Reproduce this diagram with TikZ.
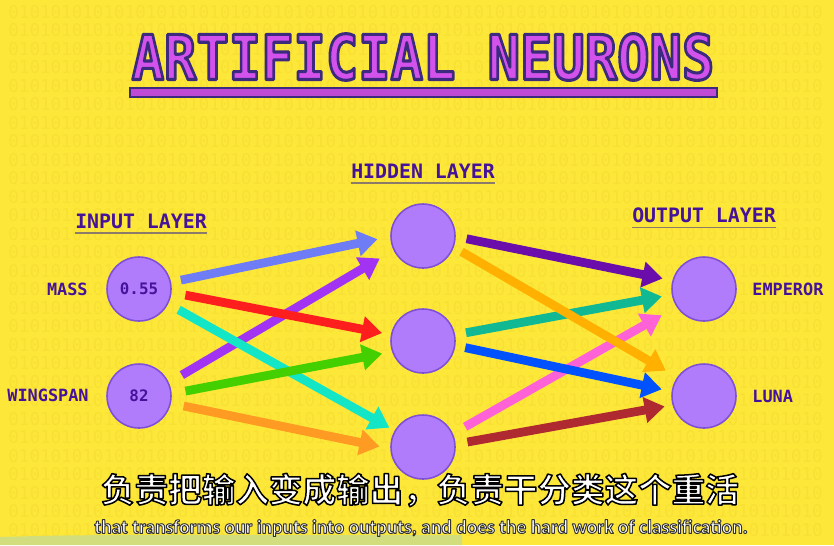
\documentclass[tikz,border=0pt]{standalone}
\usepackage{fontspec}
\setmonofont{DejaVu Sans Mono}
\newfontfamily\titlefont{DejaVu Sans Mono}[UprightFont={* Bold},FakeBold=5]
\newfontfamily\cjk{Noto Sans CJK SC}[UprightFont={* Bold},FakeBold=4.5]
\newfontfamily\subfont{Carlito}[UprightFont={* Bold},FakeBold=5]
\usetikzlibrary{arrows.meta}

\definecolor{bgyellow}{HTML}{FDE83A}
\definecolor{bitink}{HTML}{F8E034}
\definecolor{neufill}{HTML}{B07CFC}
\definecolor{neuedge}{HTML}{7E50D8}
\definecolor{inkpurple}{HTML}{45129A}
\definecolor{ruleline}{HTML}{8C7B68}
\definecolor{titlefill}{HTML}{D452EC}
\definecolor{titleedge}{HTML}{3C2A7E}
\definecolor{grassband}{HTML}{D2DE7E}
\definecolor{cBlue}{HTML}{6E7DF5}
\definecolor{cViolet}{HTML}{A233F2}
\definecolor{cRed}{HTML}{FF1E1E}
\definecolor{cCyan}{HTML}{12E6C6}
\definecolor{cGreen}{HTML}{44CF00}
\definecolor{cOrange}{HTML}{FF9A22}
\definecolor{cPlum}{HTML}{6A0DAA}
\definecolor{cAmber}{HTML}{FFB000}
\definecolor{cTeal}{HTML}{10B994}
\definecolor{cRoyal}{HTML}{0052FF}
\definecolor{cPink}{HTML}{FF62D6}
\definecolor{cMaroon}{HTML}{AE2A30}

% text filled with #1 and stroked with #2 (rgb or gray lists)
\newcommand\outlined[3]{{\pgfsetroundjoin\special{pdf:bcolor [#1] [#2]}#3\special{pdf:ecolor}}}
\def\bitten{0101010101}
\def\bitrow{\bitten\bitten\bitten\bitten\bitten\bitten\bitten0101010}

\begin{document}
\begin{tikzpicture}[x=0.02cm,y=-0.02cm,
  neuron/.style={circle,draw=neuedge,fill=neufill,line width=0.9pt,minimum size=1.28cm,inner sep=0pt,
    font=\ttfamily\bfseries\fontsize{9}{9}\selectfont,text=inkpurple},
  layertitle/.style={font=\ttfamily\bfseries\fontsize{11.3}{11.3}\selectfont,text=inkpurple,inner sep=0pt},
  featlabel/.style={font=\ttfamily\bfseries\fontsize{9.6}{9.6}\selectfont,text=inkpurple,inner sep=0pt},
  bits/.style={font=\ttfamily\fontsize{10}{10}\selectfont,text=bitink,inner sep=0pt,anchor=west},
  uline/.style={ruleline,line width=0.8pt},
  weight/.style={line width=5pt,-{Triangle[length=0.4cm,width=0.5cm]}}]
\useasboundingbox (0,0) rectangle (834,545);
\fill[bgyellow] (0,0) rectangle (834,545);
\foreach \r in {0,...,28}{\node[bits] (bits\r) at (8,12+\r*18.5) {\bitrow};}
\fill[grassband] (0,545) -- (0,537) .. controls (120,533) and (300,536) .. (462,535) -- (462,545) -- cycle;

% title and bar
\node[font=\titlefont\fontsize{30.6}{30.6}\selectfont,inner sep=0pt] (title) at (423,57)
  {\scalebox{1}[1.15]{\outlined{0.831 0.322 0.925}{0.235 0.165 0.494}{ARTIFICIAL NEURONS}}};
\draw[titleedge,fill=titlefill!90!black,line width=0.9pt] (130,88) rectangle (717,97);

% neurons
\node[neuron] (m) at (139,289) {0.55};
\node[neuron] (w) at (139,396) {82};
\node[neuron] (h1) at (423,236) {};
\node[neuron] (h2) at (423,341) {};
\node[neuron] (h3) at (423,447) {};
\node[neuron] (o1) at (704,289) {};
\node[neuron] (o2) at (704,396) {};

% layer headings
\node[layertitle] (inl) at (141,221) {INPUT LAYER};
\node[layertitle] (hidl) at (423,171) {HIDDEN LAYER};
\node[layertitle] (outl) at (704,215) {OUTPUT LAYER};
\foreach \n in {inl,hidl,outl}{\draw[uline] ([yshift=-2.5pt]\n.south west) -- ([yshift=-2.5pt]\n.south east);}

\node[featlabel,anchor=east] (mlab) at (88,289) {MASS};
\node[featlabel,anchor=east] (wlab) at (89,395) {WINGSPAN};
\node[featlabel,anchor=west] (elab) at (752,289) {EMPEROR};
\node[featlabel,anchor=west] (llab) at (752,396) {LUNA};

% input -> hidden
\draw[weight,cViolet,shorten <=0.3cm,shorten >=0.32cm] (w.24) -- (h1.206);
\draw[weight,cBlue,shorten <=0.2cm,shorten >=0.26cm] (m.12) -- (h1.181);
\draw[weight,cRed,shorten <=0.28cm,shorten >=0.18cm] (m.-6) -- (h2.169);
\draw[weight,cCyan,shorten <=0.24cm,shorten >=0.12cm] (m.-27) -- (h3.150);
\draw[weight,cGreen,shorten <=0.28cm,shorten >=0.2cm] (w.4) -- (h2.199);
\draw[weight,cOrange,shorten <=0.26cm,shorten >=0.22cm] (w.-13) -- (h3.183);
% hidden -> output
\draw[weight,cTeal,shorten <=0.22cm,shorten >=0.2cm] (h2.11) -- (o1.190);
\draw[weight,cPink,shorten <=0.28cm,shorten >=0.34cm] (h3.24) -- (o1.213);
\draw[weight,cRoyal,shorten <=0.2cm,shorten >=0.2cm] (h2.-8) -- (o2.172);
\draw[weight,cMaroon,shorten <=0.24cm,shorten >=0.16cm] (h3.5) -- (o2.196);
\draw[weight,cPlum,shorten <=0.22cm,shorten >=0.2cm] (h1.-1) -- (o1.165);
\draw[weight,cAmber,shorten <=0.18cm,shorten >=0.26cm] (h1.-20) -- (o2.145);

% subtitles
\node[font=\cjk\fontsize{19.1}{19.1}\selectfont,inner sep=0pt] (zh) at (420,490)
  {\outlined{1}{0}{负责把输入变成输出，负责干分类这个重活}};
\node[font=\subfont\fontsize{11.1}{11.1}\selectfont,inner sep=0pt] (en) at (421,528)
  {\outlined{1}{0.2}{that transforms our inputs into outputs, and does the hard work of classification.}};
\end{tikzpicture}
\end{document}
